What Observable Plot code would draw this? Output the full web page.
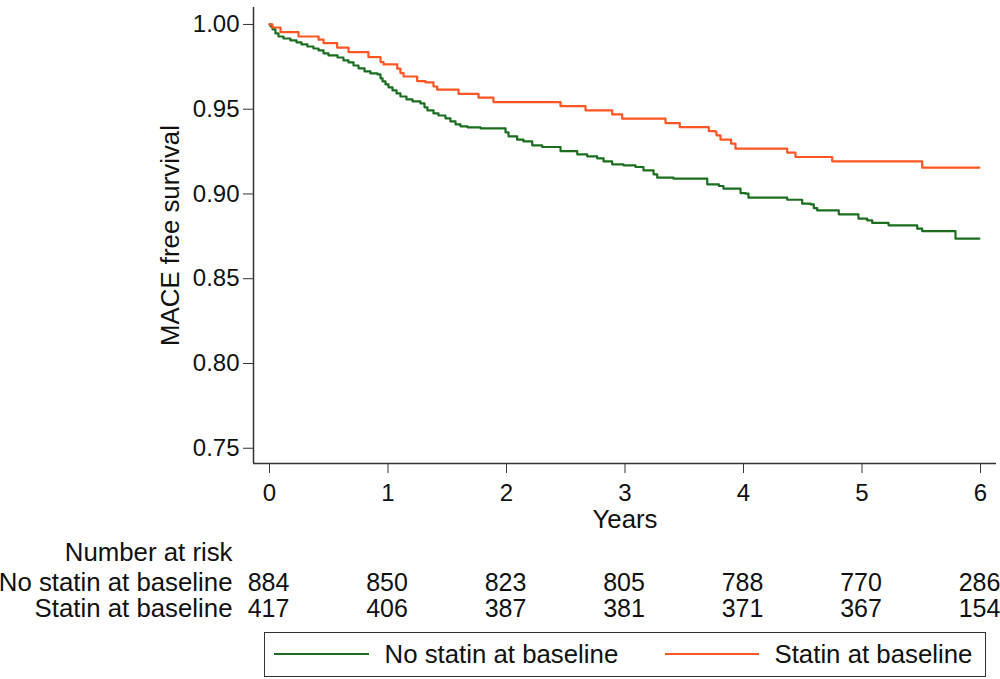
<!DOCTYPE html>
<html>
<head>
<meta charset="utf-8">
<script src="https://cdn.jsdelivr.net/npm/d3@7"></script>
<script src="https://cdn.jsdelivr.net/npm/@observablehq/plot@0.6"></script>
<style>
  html, body { margin: 0; padding: 0; background: #fff; }
  body { font-family: "Liberation Sans", Arial, sans-serif; width: 1000px; height: 679px; position: relative; overflow: hidden; }
  #chart { position: absolute; left: 0; top: 0; }
  #legend { position: absolute; left: 264px; top: 632px; width: 722px; height: 45px; box-sizing: border-box; border: 1.5px solid #333; background: #fff; }
  .sw { position: absolute; top: 20px; height: 0; border-top: 2px solid; }
  .lt { position: absolute; top: 0; line-height: 42px; font-size: 25.8px; color: #111; white-space: nowrap; }
</style>
</head>
<body>
<div id="chart"></div>
<div id="legend"></div>
<script>
// Kaplan–Meier step data (time in years, survival after each drop)
const noStatinTime = [0, 0.01, 0.025, 0.05, 0.076, 0.118, 0.177, 0.228, 0.27, 0.32, 0.371, 0.414, 0.456, 0.498, 0.574, 0.624, 0.667, 0.709, 0.751, 0.802, 0.852, 0.911, 0.937, 0.954, 0.979, 1.004, 1.038, 1.072, 1.105, 1.156, 1.207, 1.274, 1.308, 1.333, 1.384, 1.426, 1.485, 1.527, 1.570, 1.612, 1.671, 1.781, 1.992, 2.017, 2.090, 2.143, 2.217, 2.301, 2.456, 2.597, 2.681, 2.765, 2.819, 2.892, 2.987, 3.089, 3.156, 3.241, 3.272, 3.409, 3.694, 3.792, 3.831, 3.975, 4.017, 4.042, 4.369, 4.495, 4.565, 4.593, 4.622, 4.804, 4.970, 5.044, 5.086, 5.224, 5.466, 5.508, 5.789, 5.99];
const noStatinSurv = [1.000, 0.9988, 0.9971, 0.9947, 0.9929, 0.9917, 0.9906, 0.9894, 0.9882, 0.9870, 0.9858, 0.9847, 0.9829, 0.9817, 0.9805, 0.9788, 0.9776, 0.9758, 0.9741, 0.9723, 0.9711, 0.9705, 0.9682, 0.9664, 0.9646, 0.9629, 0.9611, 0.9593, 0.9575, 0.9558, 0.9546, 0.9534, 0.9511, 0.9493, 0.9475, 0.9463, 0.9446, 0.9428, 0.9410, 0.9399, 0.9393, 0.9387, 0.9363, 0.9340, 0.9320, 0.9310, 0.9287, 0.9277, 0.9253, 0.9234, 0.9222, 0.9210, 0.9192, 0.9175, 0.9169, 0.9159, 0.9139, 0.9116, 0.9096, 0.9090, 0.9057, 0.9047, 0.9031, 0.9005, 0.9002, 0.8978, 0.8966, 0.8943, 0.8939, 0.8917, 0.8903, 0.8880, 0.8854, 0.8844, 0.8829, 0.8815, 0.8795, 0.8781, 0.8736, 0.8736];

const statinTime = [0, 0.025, 0.093, 0.245, 0.414, 0.456, 0.571, 0.667, 0.835, 0.937, 0.962, 1.078, 1.105, 1.131, 1.246, 1.316, 1.384, 1.415, 1.595, 1.764, 1.890, 2.456, 2.667, 2.892, 2.976, 3.342, 3.462, 3.707, 3.764, 3.772, 3.806, 3.895, 3.932, 4.369, 4.439, 4.749, 5.508, 5.99];
const statinSurv = [1.000, 0.9982, 0.9955, 0.9929, 0.9910, 0.9890, 0.9863, 0.9837, 0.9807, 0.9778, 0.9764, 0.9739, 0.9713, 0.9693, 0.9666, 0.9658, 0.9634, 0.9615, 0.9591, 0.9568, 0.9542, 0.9518, 0.9493, 0.9469, 0.9444, 0.9418, 0.9394, 0.9371, 0.9365, 0.9346, 0.9320, 0.9297, 0.9267, 0.9244, 0.9218, 0.9192, 0.9155, 0.9155];

const groups = ["No statin at baseline", "Statin at baseline"];
const groupColors = ["#1b6e1f", "#ff5424"];

const yTicks = [0.75, 0.80, 0.85, 0.90, 0.95, 1.00];
const xTicks = [0, 1, 2, 3, 4, 5, 6];

const riskYears = [0, 1, 2, 3, 4, 5, 6];
const riskNoStatin = [884, 850, 823, 805, 788, 770, 286];
const riskStatin = [417, 406, 387, 381, 371, 367, 154];

// tables built from the arrays
const curveData = [
  ...noStatinTime.map((t, i) => ({group: groups[0], t, s: noStatinSurv[i]})),
  ...statinTime.map((t, i) => ({group: groups[1], t, s: statinSurv[i]}))
];
const riskRow1 = riskYears.map((y, i) => ({year: y, n: riskNoStatin[i]}));
const riskRow2 = riskYears.map((y, i) => ({year: y, n: riskStatin[i]}));

const xDomain = [-0.135, 6.135];
const yDomain = [0.741, 1.010];

const labelSize = 25.8;
const numSize = 25;

const chart = Plot.plot({
  width: 1000,
  height: 632,
  marginTop: 7,
  marginLeft: 253,
  marginRight: 4,
  marginBottom: 169,
  style: {fontFamily: "'Liberation Sans', Arial, sans-serif", fontSize: "24px", color: "#222", background: "#fff", overflow: "visible"},
  x: {domain: xDomain, axis: null},
  y: {domain: yDomain, axis: null},
  color: {domain: groups, range: groupColors},
  marks: [
    Plot.ruleX([xDomain[0]], {stroke: "#333", strokeWidth: 1.5}),
    Plot.ruleY([yDomain[0]], {stroke: "#333", strokeWidth: 1.5}),
    Plot.axisY({ticks: yTicks, tickFormat: d3.format(".2f"), tickSize: 10, tickPadding: 4, label: null, fill: "#111", stroke: "#333"}),
    Plot.axisX({ticks: xTicks, tickFormat: d3.format("d"), tickSize: 10, tickPadding: 10, label: null, fill: "#111", stroke: "#333"}),
    Plot.line(curveData, {x: "t", y: "s", z: "group", stroke: "group", curve: "step-after", strokeWidth: 2.2}),
    Plot.text(["MACE free survival"], {frameAnchor: "left", dx: -83, rotate: -90, textAnchor: "middle", lineAnchor: "middle", fontSize: labelSize, fill: "#111"}),
    Plot.text(["Years"], {frameAnchor: "bottom", dy: 56, lineAnchor: "middle", fontSize: labelSize, fill: "#111"}),
    Plot.text(["Number at risk"], {frameAnchor: "bottom-left", dx: -21, dy: 89, textAnchor: "end", lineAnchor: "middle", fontSize: labelSize, fill: "#111"}),
    Plot.text([groups[0]], {frameAnchor: "bottom-left", dx: -21, dy: 119, textAnchor: "end", lineAnchor: "middle", fontSize: labelSize, fill: "#111"}),
    Plot.text([groups[1]], {frameAnchor: "bottom-left", dx: -21, dy: 145, textAnchor: "end", lineAnchor: "middle", fontSize: labelSize, fill: "#111"}),
    Plot.text(riskRow1, {x: "year", text: "n", frameAnchor: "bottom", dy: 119, dx: -1, lineAnchor: "middle", fontSize: numSize, fill: "#111"}),
    Plot.text(riskRow2, {x: "year", text: "n", frameAnchor: "bottom", dy: 145, dx: -1, lineAnchor: "middle", fontSize: numSize, fill: "#111"})
  ]
});
document.getElementById("chart").appendChild(chart);

// legend
const legend = document.getElementById("legend");
const legendPos = [{sw: 8.5, w: 95, tx: 119.5}, {sw: 399.5, w: 94, tx: 509.5}];
groups.forEach((g, i) => {
  const sw = document.createElement("div");
  sw.className = "sw";
  sw.style.left = legendPos[i].sw + "px";
  sw.style.width = legendPos[i].w + "px";
  sw.style.borderTopColor = groupColors[i];
  legend.appendChild(sw);
  const t = document.createElement("div");
  t.className = "lt";
  t.style.left = legendPos[i].tx + "px";
  t.textContent = g;
  legend.appendChild(t);
});
</script>
</body>
</html>
